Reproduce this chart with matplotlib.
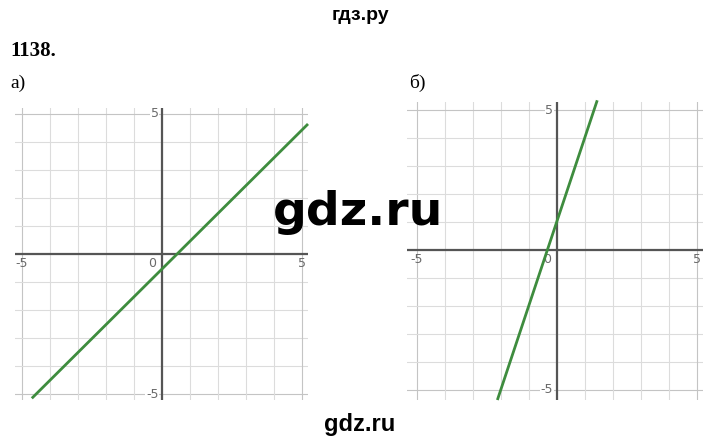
import numpy as np
import matplotlib
matplotlib.use('Agg')
import matplotlib.pyplot as plt

# panel a) line endpoints (read from picture)
a_x = [-4.65, 5.21]
a_y = [-5.15, 4.64]
# panel b) y = 3x + 1
b_x = [-2.12, 1.45]
b_y = [-5.36, 5.35]

grid_ticks = list(range(-5, 6))
label_ticks = [-5, 5]

GREEN = '#3e8c3e'
AXIS = '#555555'
GRID = '#dcdcdc'
LABEL = '#6a6a6a'


def draw_panel(ax, xs, ys, xlim, ylim):
  ax.set_xlim(*xlim)
  ax.set_ylim(*ylim)
  ax.set_xticks(grid_ticks)
  ax.set_yticks(grid_ticks)
  ax.tick_params(length=0, labelbottom=False, labelleft=False)
  for s in ax.spines.values():
    s.set_visible(False)
  for t in grid_ticks:
    c = '#c4c4c4' if t in label_ticks else GRID
    ax.axvline(t, color=c, lw=0.8, zorder=0)
    ax.axhline(t, color=c, lw=0.8, zorder=0)
  ax.axhline(0, color=AXIS, lw=1.6, zorder=1)
  ax.axvline(0, color=AXIS, lw=1.6, zorder=1)
  #
  for t in label_ticks:
    ax.text(t, -0.12, str(t), ha='center', va='top', fontsize=9,
            color=LABEL, family='DejaVu Sans')
    ax.text(-0.12, t, str(t), ha='right', va='center', fontsize=9,
            color=LABEL, family='DejaVu Sans',
            bbox=dict(facecolor='white', edgecolor='none', pad=0.5))
  ax.text(-0.2, -0.12, '0', ha='right', va='top', fontsize=9,
          color=LABEL, family='DejaVu Sans')
  #
  ax.plot(xs, ys, color=GREEN, lw=2.0, solid_capstyle='butt', zorder=3,
          clip_on=False)


fig = plt.figure(figsize=(7.2, 4.42), dpi=100)
W, H = 720, 442

ax_a = fig.add_axes([15 / W, (H - 400) / H, 293 / W, 292 / H])
draw_panel(ax_a, a_x, a_y, (-5.25, 5.21), (-5.21, 5.21))

ax_b = fig.add_axes([407 / W, (H - 400) / H, 296 / W, 298.3 / H])
draw_panel(ax_b, b_x, b_y, (-5.35, 5.23), (-5.36, 5.3))

fig.text(360 / W, 1 - 15 / H, 'гдз.ру', ha='center', va='center',
         fontsize=14, fontweight='bold', family='Liberation Sans')
fig.text(10 / W, 1 - 51 / H, '1138.', ha='left', va='center',
         fontsize=15, fontweight='bold', family='Liberation Serif')
fig.text(10 / W, 1 - 83 / H, 'а)', ha='left', va='center',
         fontsize=14, family='Liberation Serif')
fig.text(409 / W, 1 - 83 / H, 'б)', ha='left', va='center',
         fontsize=14, family='Liberation Serif')

fig.text(358 / W, 1 - 212 / H, 'gdz.ru', ha='center', va='center',
         fontsize=34, fontweight='bold', family='DejaVu Sans', zorder=10)
fig.text(360 / W, 1 - 424 / H, 'gdz.ru', ha='center', va='center',
         fontsize=17, fontweight='bold', family='Liberation Sans', zorder=10)

fig.savefig('out.png', dpi=100)
